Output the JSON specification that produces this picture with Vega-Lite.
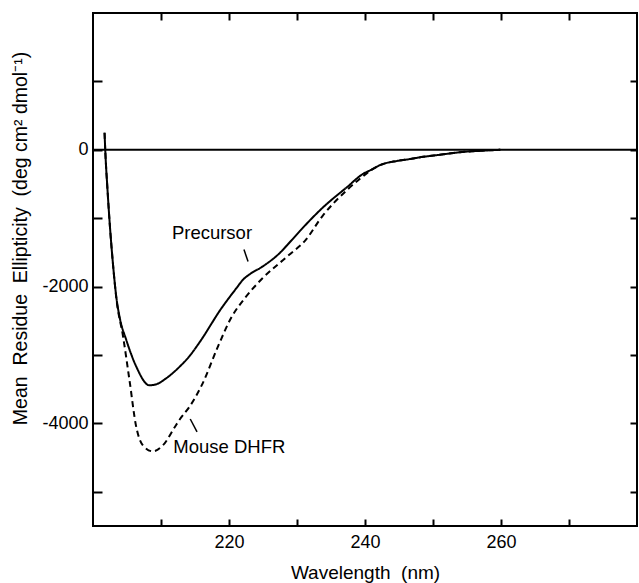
{
  "$schema": "https://vega.github.io/schema/vega-lite/v6.json",
  "width": 544,
  "height": 513,
  "autosize": {"type": "none"},
  "padding": {"left": 93, "top": 13, "right": 2, "bottom": 57},
  "background": "white",
  "config": {
    "view": {"stroke": "black", "strokeWidth": 2},
    "font": "Liberation Sans",
    "axis": {
      "domain": false,
      "grid": false,
      "tickColor": "black",
      "tickWidth": 2,
      "labelColor": "black",
      "labelFont": "Liberation Sans",
      "labelFontSize": 18,
      "titleFont": "Liberation Sans",
      "titleFontSize": 18,
      "titleFontWeight": "normal",
      "titleColor": "black"
    }
  },
  "datasets": {
    "curves": [
      {"series": "Precursor", "wl": 201.7, "v": 250},
      {"series": "Precursor", "wl": 201.8, "v": 0},
      {"series": "Precursor", "wl": 202.13, "v": -580},
      {"series": "Precursor", "wl": 202.5, "v": -1134},
      {"series": "Precursor", "wl": 202.94, "v": -1673},
      {"series": "Precursor", "wl": 203.43, "v": -2153},
      {"series": "Precursor", "wl": 203.97, "v": -2474},
      {"series": "Precursor", "wl": 204.85, "v": -2767},
      {"series": "Precursor", "wl": 206.32, "v": -3160},
      {"series": "Precursor", "wl": 208.3, "v": -3443},
      {"series": "Precursor", "wl": 209.5, "v": -3420},
      {"series": "Precursor", "wl": 210.7, "v": -3345},
      {"series": "Precursor", "wl": 212.8, "v": -3165},
      {"series": "Precursor", "wl": 214.2, "v": -3015},
      {"series": "Precursor", "wl": 215.7, "v": -2810},
      {"series": "Precursor", "wl": 218.9, "v": -2315},
      {"series": "Precursor", "wl": 221.1, "v": -2022},
      {"series": "Precursor", "wl": 222.1, "v": -1895},
      {"series": "Precursor", "wl": 223.1, "v": -1815},
      {"series": "Precursor", "wl": 224.8, "v": -1715},
      {"series": "Precursor", "wl": 227.5, "v": -1505},
      {"series": "Precursor", "wl": 229.0, "v": -1345},
      {"series": "Precursor", "wl": 230.4, "v": -1190},
      {"series": "Precursor", "wl": 233.8, "v": -844},
      {"series": "Precursor", "wl": 237.3, "v": -550},
      {"series": "Precursor", "wl": 239.7, "v": -353},
      {"series": "Precursor", "wl": 241.0, "v": -288},
      {"series": "Precursor", "wl": 242.2, "v": -224},
      {"series": "Precursor", "wl": 244.7, "v": -163},
      {"series": "Precursor", "wl": 246.6, "v": -135},
      {"series": "Precursor", "wl": 248.1, "v": -110},
      {"series": "Precursor", "wl": 251.0, "v": -73},
      {"series": "Precursor", "wl": 254.0, "v": -35},
      {"series": "Precursor", "wl": 256.9, "v": -15},
      {"series": "Precursor", "wl": 259.9, "v": 0},
      {"series": "Mouse DHFR", "wl": 201.7, "v": 250},
      {"series": "Mouse DHFR", "wl": 201.8, "v": 0},
      {"series": "Mouse DHFR", "wl": 202.13, "v": -580},
      {"series": "Mouse DHFR", "wl": 202.5, "v": -1134},
      {"series": "Mouse DHFR", "wl": 202.94, "v": -1673},
      {"series": "Mouse DHFR", "wl": 203.43, "v": -2170},
      {"series": "Mouse DHFR", "wl": 204.41, "v": -2722},
      {"series": "Mouse DHFR", "wl": 205.4, "v": -3392},
      {"series": "Mouse DHFR", "wl": 206.32, "v": -4032},
      {"series": "Mouse DHFR", "wl": 207.35, "v": -4322},
      {"series": "Mouse DHFR", "wl": 208.8, "v": -4408},
      {"series": "Mouse DHFR", "wl": 210.3, "v": -4318},
      {"series": "Mouse DHFR", "wl": 212.2, "v": -4026},
      {"series": "Mouse DHFR", "wl": 212.8, "v": -3935},
      {"series": "Mouse DHFR", "wl": 214.2, "v": -3755},
      {"series": "Mouse DHFR", "wl": 216.0, "v": -3440},
      {"series": "Mouse DHFR", "wl": 218.4, "v": -2870},
      {"series": "Mouse DHFR", "wl": 220.3, "v": -2459},
      {"series": "Mouse DHFR", "wl": 222.35, "v": -2166},
      {"series": "Mouse DHFR", "wl": 224.85, "v": -1886},
      {"series": "Mouse DHFR", "wl": 228.7, "v": -1548},
      {"series": "Mouse DHFR", "wl": 231.2, "v": -1327},
      {"series": "Mouse DHFR", "wl": 233.8, "v": -961},
      {"series": "Mouse DHFR", "wl": 237.3, "v": -593},
      {"series": "Mouse DHFR", "wl": 239.3, "v": -420},
      {"series": "Mouse DHFR", "wl": 241.0, "v": -290},
      {"series": "Mouse DHFR", "wl": 242.2, "v": -224},
      {"series": "Mouse DHFR", "wl": 244.7, "v": -163},
      {"series": "Mouse DHFR", "wl": 246.6, "v": -135},
      {"series": "Mouse DHFR", "wl": 248.1, "v": -110},
      {"series": "Mouse DHFR", "wl": 251.0, "v": -73},
      {"series": "Mouse DHFR", "wl": 254.0, "v": -35},
      {"series": "Mouse DHFR", "wl": 256.9, "v": -15},
      {"series": "Mouse DHFR", "wl": 259.9, "v": 0}
    ],
    "labels": [
      {"label": "Precursor", "wl": 211.6, "v": -1210},
      {"label": "Mouse DHFR", "wl": 211.8, "v": -4344}
    ],
    "pointers": [
      {"wl": 222.2, "v": -1458, "wl2": 222.8, "v2": -1633},
      {"wl": 214.3, "v": -3936, "wl2": 215.3, "v2": -4125}
    ]
  },
  "layer": [
    {
      "data": {"name": "curves"},
      "mark": {"type": "line", "interpolate": "monotone", "strokeWidth": 2, "color": "black"},
      "encoding": {
        "x": {
          "field": "wl", "type": "quantitative",
          "scale": {"domain": [200, 280], "nice": false, "zero": false},
          "axis": {
            "orient": "bottom",
            "values": [210, 220, 230, 240, 250, 260, 270],
            "labelExpr": "datum.value % 20 == 0 ? toString(datum.value) : ''",
            "tickSize": -7,
            "labelPadding": 14,
            "title": "Wavelength\u00a0 (nm)",
            "titleX": 272,
            "titleY": 52,
            "titleBaseline": "alphabetic",
            "titleAlign": "center",
            "titleFontSize": 19
          }
        },
        "y": {
          "field": "v", "type": "quantitative",
          "scale": {"domain": [-5500, 2000], "nice": false, "zero": false},
          "axis": {
            "orient": "left",
            "values": [-5000, -4000, -3000, -2000, -1000, 0, 1000],
            "labelExpr": "(datum.value % 2000 == 0 && datum.value <= 0) ? toString(datum.value) : ''",
            "tickSize": -9,
            "labelPadding": 14,
            "title": "Mean\u00a0 Residue\u00a0 Ellipticity\u00a0 (deg cm\u00b2 dmol\u207b\u00b9)",
            "titleX": -73,
            "titleY": 225,
            "titleAngle": -90,
            "titleAlign": "center",
            "titleBaseline": "middle",
            "titleFontSize": 19.5
          }
        },
        "strokeDash": {
          "field": "series", "type": "nominal",
          "scale": {"domain": ["Precursor", "Mouse DHFR"], "range": [[1, 0], [6, 4]]},
          "legend": null
        }
      }
    },
    {
      "data": {"values": [{"v": 0}]},
      "mark": {"type": "rule", "color": "black", "strokeWidth": 2},
      "encoding": {
        "y": {
          "field": "v", "type": "quantitative",
          "scale": {"domain": [-5500, 2000], "nice": false, "zero": false},
          "axis": {
            "orient": "right",
            "values": [-5000, -4000, -3000, -2000, -1000, 0, 1000],
            "labels": false,
            "tickSize": -7,
            "title": null
          }
        }
      }
    },
    {
      "data": {"name": "pointers"},
      "mark": {"type": "rule", "color": "black", "strokeWidth": 1.5},
      "encoding": {
        "x": {
          "field": "wl", "type": "quantitative",
          "scale": {"domain": [200, 280], "nice": false, "zero": false},
          "axis": {
            "orient": "top",
            "values": [210, 220, 230, 240, 250, 260, 270],
            "labels": false,
            "tickSize": -7,
            "title": null
          }
        },
        "y": {"field": "v", "type": "quantitative", "axis": null},
        "x2": {"field": "wl2"},
        "y2": {"field": "v2"}
      }
    },
    {
      "data": {"name": "labels"},
      "mark": {"type": "text", "align": "left", "baseline": "middle", "fontSize": 18.5, "font": "Liberation Sans", "color": "black"},
      "encoding": {
        "x": {"field": "wl", "type": "quantitative", "axis": null},
        "y": {"field": "v", "type": "quantitative", "axis": null},
        "text": {"field": "label"}
      }
    }
  ],
  "resolve": {"axis": {"x": "independent", "y": "independent"}}
}
